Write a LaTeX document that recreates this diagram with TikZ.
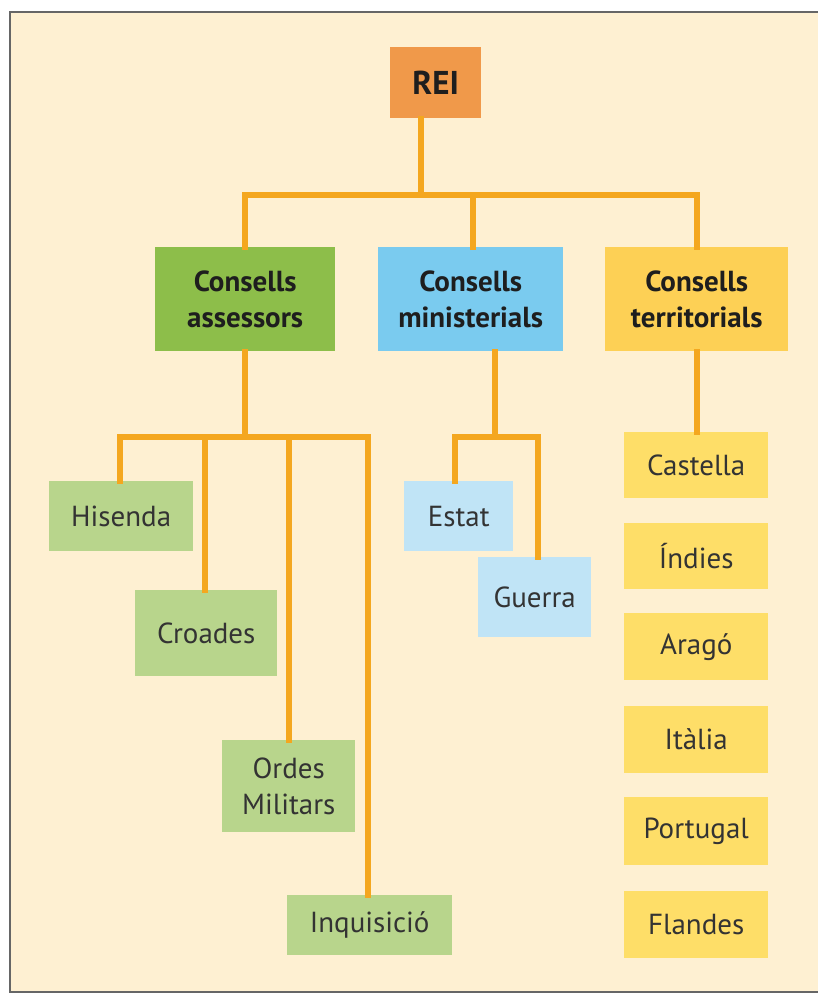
\documentclass[tikz,border=0pt]{standalone}
\usepackage{fontspec}
\setmainfont{PT Sans}
\definecolor{bgc}{HTML}{FEF0D2}
\definecolor{linec}{HTML}{F4A71F}
\definecolor{reic}{HTML}{F0994A}
\definecolor{greenc}{HTML}{8DBE4A}
\definecolor{bluec}{HTML}{7ACBEF}
\definecolor{yellowc}{HTML}{FDD055}
\definecolor{lgreenc}{HTML}{B8D58C}
\definecolor{lbluec}{HTML}{C0E4F6}
\definecolor{lyellowc}{HTML}{FEDE68}
\definecolor{txtc}{HTML}{1E1E1E}
\definecolor{txtb}{HTML}{333333}
\tikzset{
  boxbase/.style={anchor=north west, inner sep=0pt, align=center, text=txtc},
  headbox/.style={boxbase, font=\fontsize{29}{36}\selectfont\bfseries},
  reibox/.style={boxbase, font=\fontsize{33}{36}\selectfont\bfseries},
  childbox/.style={boxbase, text=txtb, font=\fontsize{29}{36}\selectfont},
  conn/.style={draw=linec, line width=5.5pt, line cap=rect, line join=miter},
}
\begin{document}
\begin{tikzpicture}[x=1pt,y=-1pt]
\useasboundingbox (0,0) rectangle (818,994);
\clip (0,0) rectangle (818,994);
\fill[white] (0,0) rectangle (818,994);
\fill[bgc] (10,12) rectangle (830,992);
\draw[draw=black!60, line width=2.5pt] (830,12) -- (10,12) -- (10,992) -- (830,992);

% top
\node[reibox, fill=reic, minimum width=91pt, minimum height=71pt] (rei) at (390,47) {REI};
% second level
\node[headbox, fill=greenc, minimum width=180pt, minimum height=104pt] (ass) at (155,247) {Consells\\assessors};
\node[headbox, fill=bluec, minimum width=185pt, minimum height=104pt] (min) at (378,247) {Consells\\ministerials};
\node[headbox, fill=yellowc, minimum width=183pt, minimum height=104pt] (ter) at (605,247) {Consells\\territorials};
% assessors children
\node[childbox, fill=lgreenc, minimum width=144pt, minimum height=70pt] (his) at (49,481) {Hisenda};
\node[childbox, fill=lgreenc, minimum width=142pt, minimum height=86pt] (cro) at (135,590) {Croades};
\node[childbox, fill=lgreenc, minimum width=133pt, minimum height=92pt] (ord) at (222,740) {Ordes\\Militars};
\node[childbox, fill=lgreenc, minimum width=165pt, minimum height=60pt] (inq) at (287,895) {Inquisició};
% ministerials children
\node[childbox, fill=lbluec, minimum width=109pt, minimum height=70pt] (est) at (404,481) {Estat};
\node[childbox, fill=lbluec, minimum width=113pt, minimum height=80pt] (gue) at (478,557) {Guerra};
% territorials children
\node[childbox, fill=lyellowc, minimum width=144pt, minimum height=66pt] (cas) at (624,432) {Castella};
\node[childbox, fill=lyellowc, minimum width=144pt, minimum height=66pt] (ind) at (624,523) {Índies};
\node[childbox, fill=lyellowc, minimum width=144pt, minimum height=67pt] (ara) at (624,613) {Aragó};
\node[childbox, fill=lyellowc, minimum width=144pt, minimum height=67pt] (ita) at (624,706) {Itàlia};
\node[childbox, fill=lyellowc, minimum width=144pt, minimum height=68pt] (por) at (624,797) {Portugal};
\node[childbox, fill=lyellowc, minimum width=144pt, minimum height=67pt] (fla) at (624,891) {Flandes};

% connectors
\coordinate (j1) at (421,195);
\draw[conn] (rei.south -| j1) -- (j1);
\draw[conn] (ass.north -| 245,0) -- (245,195) -- (697,195) -- (ter.north -| 697,0);
\draw[conn] (473,195) -- (min.north -| 473,0);
% assessors
\draw[conn] (ass.south -| 245,0) -- (245,437);
\draw[conn] (his.north -| 120,0) -- (120,437) -- (368,437) -- (inq.north -| 368,0);
\draw[conn] (205,437) -- (cro.north -| 205,0);
\draw[conn] (289,437) -- (ord.north -| 289,0);
% ministerials
\draw[conn] (min.south -| 495,0) -- (495,437);
\draw[conn] (est.north -| 455,0) -- (455,437) -- (538,437) -- (gue.north -| 538,0);
% territorials
\draw[conn] (ter.south -| 697,0) -- (cas.north -| 697,0);
\end{tikzpicture}
\end{document}
